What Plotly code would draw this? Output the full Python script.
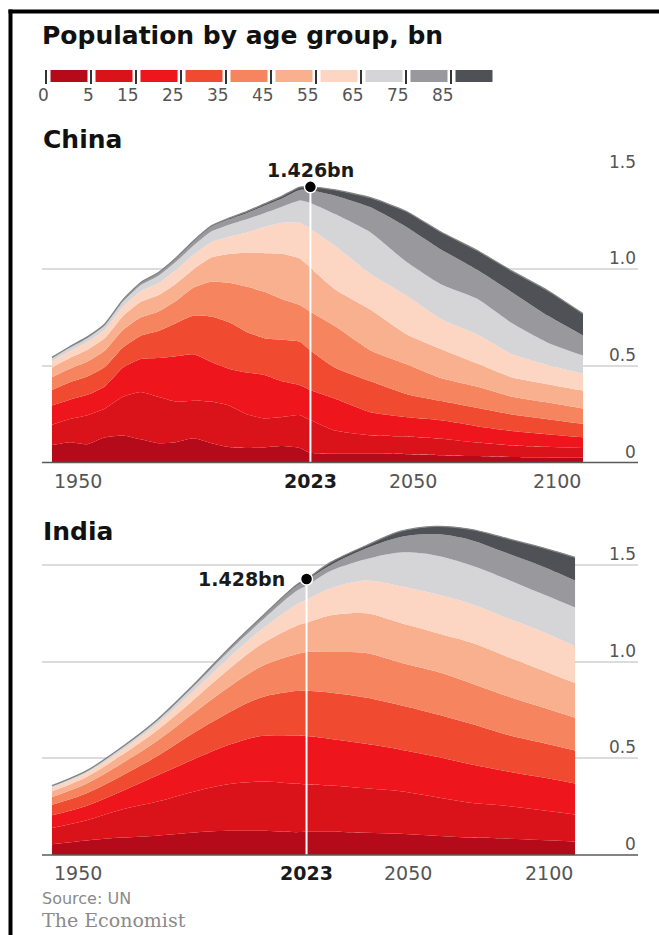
import plotly.graph_objects as go

# ---------------- data ----------------
AGE_GROUPS = ["0-4", "5-14", "15-24", "25-34", "35-44", "45-54", "55-64", "65-74", "75-84", "85+"]
LEGEND_LABELS = ["0", "5", "15", "25", "35", "45", "55", "65", "75", "85"]
HIGHLIGHT_YEAR = 2023
Y_TICKS = [0, 0.5, 1.0, 1.5]
Y_TICK_TEXT = ["0", "0.5", "1.0", "1.5"]
X_TICKS = [1950, 2023, 2050, 2100]
X_TICK_TEXT = ["1950", "2023", "2050", "2100"]

CHINA_YEARS = [1950, 1955, 1960, 1965, 1970, 1975, 1980, 1985, 1990, 1995, 2000, 2005,
               2010, 2015, 2020, 2023, 2030, 2040, 2050, 2060, 2070, 2080, 2090, 2100]
CHINA_0_4   = [.090, .105, .095, .130, .140, .120, .100, .105, .125, .100, .080, .075, .078, .085, .075, .050, .045, .045, .043, .038, .033, .028, .026, .025]
CHINA_5_14  = [.105, .120, .150, .150, .200, .245, .240, .210, .195, .215, .215, .175, .150, .150, .170, .170, .120, .095, .092, .085, .070, .060, .055, .050]
CHINA_15_24 = [.100, .100, .105, .115, .150, .170, .200, .235, .240, .205, .190, .215, .225, .185, .155, .155, .165, .120, .100, .095, .085, .075, .065, .055]
CHINA_25_34 = [.080, .090, .095, .100, .105, .120, .140, .170, .200, .235, .240, .210, .190, .215, .225, .205, .160, .160, .120, .100, .095, .085, .078, .070]
CHINA_35_44 = [.066, .070, .078, .085, .090, .095, .100, .115, .145, .180, .205, .235, .240, .210, .190, .200, .215, .160, .155, .118, .110, .092, .086, .080]
CHINA_45_54 = [.050, .055, .060, .065, .072, .080, .085, .090, .095, .125, .148, .175, .200, .235, .240, .228, .190, .210, .155, .150, .120, .100, .095, .092]
CHINA_55_64 = [.032, .035, .040, .043, .048, .055, .062, .070, .075, .080, .090, .105, .135, .160, .185, .200, .225, .185, .200, .155, .150, .120, .100, .088]
CHINA_65_74 = [.016, .018, .020, .022, .026, .032, .038, .043, .048, .055, .062, .068, .072, .083, .115, .135, .165, .215, .175, .180, .185, .160, .115, .093]
CHINA_75_84 = [.004, .005, .006, .007, .008, .011, .014, .017, .020, .024, .028, .032, .038, .043, .055, .065, .095, .130, .180, .180, .150, .160, .140, .104]
CHINA_85    = [.001, .001, .001, .001, .002, .002, .003, .003, .004, .005, .006, .008, .010, .012, .015, .018, .030, .050, .080, .090, .100, .110, .130, .113]

INDIA_YEARS = [1950, 1960, 1970, 1980, 1990, 2000, 2010, 2020, 2023,
               2030, 2040, 2050, 2060, 2070, 2080, 2090, 2100]
INDIA_0_4   = [.055, .075, .090, .100, .115, .125, .125, .118, .120, .120, .115, .110, .100, .090, .085, .078, .070]
INDIA_5_14  = [.085, .105, .145, .175, .210, .240, .255, .250, .245, .240, .230, .220, .200, .180, .170, .155, .140]
INDIA_15_24 = [.065, .075, .095, .135, .165, .200, .235, .250, .250, .240, .230, .215, .210, .200, .180, .170, .160]
INDIA_25_34 = [.055, .065, .080, .100, .135, .165, .200, .230, .235, .240, .240, .230, .220, .210, .190, .180, .170]
INDIA_35_44 = [.040, .050, .063, .078, .100, .130, .160, .190, .200, .210, .230, .220, .220, .210, .200, .185, .170]
INDIA_45_54 = [.030, .035, .044, .055, .068, .090, .115, .147, .151, .190, .205, .205, .200, .210, .205, .192, .180]
INDIA_55_64 = [.018, .020, .024, .032, .045, .058, .075, .110, .120, .140, .170, .190, .200, .200, .200, .200, .190]
INDIA_65_74 = [.008, .009, .012, .016, .023, .033, .045, .070, .072, .090, .110, .175, .200, .200, .200, .195, .200]
INDIA_75_84 = [.002, .002, .0035, .005, .007, .012, .016, .025, .028, .030, .055, .080, .110, .130, .135, .143, .140]
INDIA_85    = [.0004, .0005, .0007, .001, .0015, .003, .004, .006, .007, .015, .015, .030, .040, .055, .075, .095, .120]

CHINA_LAYERS = [CHINA_0_4, CHINA_5_14, CHINA_15_24, CHINA_25_34, CHINA_35_44,
                CHINA_45_54, CHINA_55_64, CHINA_65_74, CHINA_75_84, CHINA_85]
INDIA_LAYERS = [INDIA_0_4, INDIA_5_14, INDIA_15_24, INDIA_25_34, INDIA_35_44,
                INDIA_45_54, INDIA_55_64, INDIA_65_74, INDIA_75_84, INDIA_85]

# ---------------- style ----------------
COLORS = ["#b50a19", "#d91319", "#ee151c", "#f04a30", "#f5845f",
          "#f8b08e", "#fcd5c3", "#d5d5d8", "#98989d", "#505156"]
FONT = "DejaVu Sans"
W, H = 659, 935


def px(x):
    return x / W


def py(y):
    return 1 - y / H


fig = go.Figure()

PANELS = [
    dict(name="China", years=CHINA_YEARS, layers=CHINA_LAYERS, xa="x", ya="y",
         data_x0=52, ppy=3.54, base=462.5, ppu=193.3, smooth=0.5, top=172, title_y=139,
         tick_y=481),
    dict(name="India", years=INDIA_YEARS, layers=INDIA_LAYERS, xa="x2", ya="y2",
         data_x0=52, ppy=3.487, base=855, ppu=193.3, smooth=0.9, top=517, title_y=531,
         tick_y=873),
]

GRID_L, GRID_R = 42, 638

shapes = []
annotations = []

for i, p in enumerate(PANELS):
    years, layers = p["years"], p["layers"]
    for name, vals, col in zip(AGE_GROUPS, layers, COLORS):
        fig.add_trace(go.Scatter(
            x=years, y=vals, mode="lines", stackgroup=p["name"], name=name,
            line=dict(width=0, shape="spline", smoothing=p["smooth"]),
            fillcolor=col, xaxis=p["xa"], yaxis=p["ya"],
            hoverinfo="skip", showlegend=False))
    totals = [sum(v) for v in zip(*layers)]
    fig.add_trace(go.Scatter(
        x=years, y=totals, mode="lines",
        line=dict(width=1.3, color="#858585", shape="spline", smoothing=p["smooth"]),
        xaxis=p["xa"], yaxis=p["ya"], hoverinfo="skip", showlegend=False))
    hi = years.index(HIGHLIGHT_YEAR)
    hv = totals[hi]
    fig.add_trace(go.Scatter(
        x=[HIGHLIGHT_YEAR, HIGHLIGHT_YEAR], y=[0, hv], mode="lines",
        line=dict(width=2, color="white"),
        xaxis=p["xa"], yaxis=p["ya"], hoverinfo="skip", showlegend=False))
    fig.add_trace(go.Scatter(
        x=[HIGHLIGHT_YEAR], y=[hv], mode="markers",
        marker=dict(size=12, color="black", line=dict(width=1.5, color="white")),
        xaxis=p["xa"], yaxis=p["ya"], hoverinfo="skip", showlegend=False, cliponaxis=False))

    # axes
    x_lo = 1950 - (p["data_x0"] - GRID_L) / p["ppy"]
    x_hi = x_lo + (GRID_R - GRID_L) / p["ppy"]
    y_hi = (p["base"] - p["top"]) / p["ppu"]
    xkey = "xaxis" if i == 0 else "xaxis2"
    ykey = "yaxis" if i == 0 else "yaxis2"
    fig.layout[xkey] = dict(domain=[px(GRID_L), px(GRID_R)], range=[x_lo, x_hi],
                            showgrid=False, zeroline=False, showticklabels=False,
                            showline=False, fixedrange=True, anchor=p["ya"])
    fig.layout[ykey] = dict(domain=[py(p["base"]), py(p["top"])], range=[0, y_hi],
                            tickvals=Y_TICKS, showticklabels=False, showgrid=True,
                            gridcolor="#dcdcdc", gridwidth=1.5, zeroline=False,
                            showline=False, fixedrange=True, anchor=p["xa"])

    # baseline
    shapes.append(dict(type="line", xref="paper", yref="paper",
                       x0=px(GRID_L), x1=px(GRID_R), y0=py(p["base"]), y1=py(p["base"]),
                       line=dict(color="#5a5a5a", width=1.6), layer="above"))

    # y tick labels
    for v, t in zip(Y_TICKS, Y_TICK_TEXT):
        annotations.append(dict(text=t, xref="paper", x=px(GRID_R), xanchor="right",
                                yref=p["ya"], y=v, yanchor="middle", yshift=11,
                                showarrow=False, font=dict(family=FONT, size=17, color="#555")))
    # x tick labels
    anchors = ["left", "center", "center", "right"]
    shifts = [0, 0, 7, 0]
    for yr, t, a, s in zip(X_TICKS, X_TICK_TEXT, anchors, shifts):
        bold = yr == HIGHLIGHT_YEAR
        annotations.append(dict(text=f"<b>{t}</b>" if bold else t, xref=p["xa"], x=yr,
                                xanchor=a, xshift=s, yref="paper", y=py(p["tick_y"]),
                                yanchor="middle", showarrow=False,
                                font=dict(family=FONT, size=19,
                                          color="#1a1a1a" if bold else "#555")))
    # panel title
    annotations.append(dict(text=f"<b>{p['name']}</b>", xref="paper", x=px(41),
                            xanchor="left", yref="paper", y=py(p["title_y"]),
                            yanchor="middle", showarrow=False,
                            font=dict(family=FONT, size=25, color="#111")))

    # highlight label
    lab = f"<b>{hv:.3f}bn</b>"
    if i == 0:
        annotations.append(dict(text=lab, xref=p["xa"], x=HIGHLIGHT_YEAR, xanchor="center",
                                yref="paper", y=py(170), yanchor="middle", showarrow=False,
                                font=dict(family=FONT, size=19, color="#1a1a1a")))
        shapes.append(dict(type="rect", xref="paper", yref="paper", x0=px(252), x1=px(370),
                           y0=py(180), y1=py(162), fillcolor="white", line=dict(width=0),
                           layer="between"))
    else:
        annotations.append(dict(text=lab, xref=p["xa"], x=HIGHLIGHT_YEAR, xanchor="right",
                                xshift=-20, yref=p["ya"], y=hv, yanchor="middle",
                                showarrow=False,
                                font=dict(family=FONT, size=19, color="#1a1a1a")))

# ---------------- title & legend ----------------
annotations.append(dict(text="<b>Population by age group, bn</b>", xref="paper", x=px(40),
                        xanchor="left", yref="paper", y=py(36), yanchor="middle",
                        showarrow=False, font=dict(family=FONT, size=25, color="#111")))

for k, (lab, col) in enumerate(zip(LEGEND_LABELS, COLORS)):
    tx = 46 + 45 * k
    shapes.append(dict(type="rect", xref="paper", yref="paper",
                       x0=px(tx + 4.5), x1=px(tx + 41.5), y0=py(82), y1=py(70),
                       fillcolor=col, line=dict(width=0)))
    shapes.append(dict(type="line", xref="paper", yref="paper",
                       x0=px(tx), x1=px(tx), y0=py(84), y1=py(70),
                       line=dict(color="#333", width=2)))
    annotations.append(dict(text=lab, xref="paper", x=px(tx + 5), xanchor="right",
                            yref="paper", y=py(95), yanchor="middle", showarrow=False,
                            font=dict(family=FONT, size=17, color="#555")))

# ---------------- source ----------------
annotations.append(dict(text="Source: UN", xref="paper", x=px(40), xanchor="left",
                        yref="paper", y=py(898), yanchor="middle", showarrow=False,
                        font=dict(family=FONT, size=16, color="#8a8a8a")))
annotations.append(dict(text="The Economist", xref="paper", x=px(40), xanchor="left",
                        yref="paper", y=py(920), yanchor="middle", showarrow=False,
                        font=dict(family="DejaVu Serif", size=19, color="#8a8a8a")))

# ---------------- frame ----------------
shapes.append(dict(type="line", xref="paper", yref="paper", x0=px(8.5), x1=px(659),
                   y0=py(11.5), y1=py(11.5), line=dict(color="black", width=4)))
shapes.append(dict(type="line", xref="paper", yref="paper", x0=px(10.5), x1=px(10.5),
                   y0=py(9.5), y1=py(935), line=dict(color="black", width=4)))

fig.update_layout(width=W, height=H, margin=dict(l=0, r=0, t=0, b=0),
                  paper_bgcolor="white", plot_bgcolor="white",
                  shapes=shapes, annotations=annotations, showlegend=False)

fig.write_html("out.html")
